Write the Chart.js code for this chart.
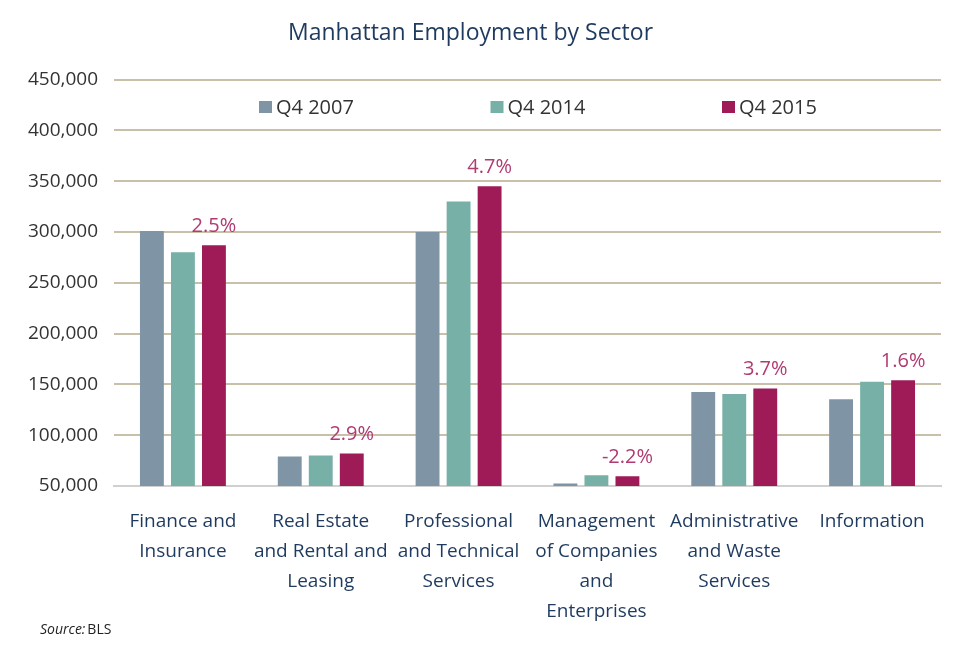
<!DOCTYPE html>
<html>
<head>
  <title>Manhattan Employment by Sector</title>
  <script src="https://cdn.jsdelivr.net/npm/chart.js"></script>
  <style>
    body { margin: 0; background: #ffffff; }
    #wrap { width: 960px; height: 653px; }
  </style>
</head>
<body>
  <div id="wrap">
    <canvas id="sectorChart"></canvas>
  </div>

  <script>
    const FONT = "'Open Sans', sans-serif";

    const sectors = [
      ["Finance and", "Insurance"],
      ["Real Estate", "and Rental and", "Leasing"],
      ["Professional", "and Technical", "Services"],
      ["Management", "of Companies", "and", "Enterprises"],
      ["Administrative", "and Waste", "Services"],
      ["Information"]
    ];
    const q42007 = [301000, 79000, 300000, 52500, 142500, 135500];
    const q42014 = [280000, 80000, 330000, 60500, 140500, 152500];
    const q42015 = [287000, 82000, 345000, 59500, 146000, 154000];
    const growth = ["2.5%", "2.9%", "4.7%", "-2.2%", "3.7%", "1.6%"];
    const yTicks = [50000, 100000, 150000, 200000, 250000, 300000, 350000, 400000, 450000];

    // legend sits inside the plot, spread wide like the original
    const innerLegend = {
      id: 'innerLegend',
      afterDraw(chart) {
        const ctx = chart.ctx;
        const area = chart.chartArea;
        const mid = (area.left + area.right) / 2 + 10;
        ctx.save();
        ctx.font = "20px " + FONT;
        ctx.textBaseline = 'middle';
        chart.data.datasets.forEach((ds, i) => {
          const x = mid + (i - 1) * 231.5 - 47;
          const y = 107;
          ctx.fillStyle = ds.backgroundColor;
          ctx.fillRect(x, y - 6, 13, 12);
          ctx.fillStyle = '#333333';
          ctx.fillText(ds.label, x + 17, y + 1);
        });
        ctx.restore();
      }
    };

    // growth labels above the Q4 2015 bars, plus source note
    const growthLabels = {
      id: 'growthLabels',
      afterDatasetsDraw(chart) {
        const ctx = chart.ctx;
        const bars = chart.getDatasetMeta(2).data;
        ctx.save();
        ctx.font = "20px " + FONT;
        ctx.fillStyle = '#b03a72';
        ctx.textAlign = 'center';
        ctx.textBaseline = 'bottom';
        bars.forEach((bar, i) => {
          ctx.fillText(growth[i], bar.x, bar.y - 9);
        });

        ctx.textAlign = 'left';
        ctx.textBaseline = 'middle';
        ctx.fillStyle = '#222222';
        ctx.font = "italic 14px " + FONT;
        ctx.fillText("Source:", 40, 630);
        const w = ctx.measureText("Source:").width;
        ctx.font = "14px " + FONT;
        ctx.fillText("BLS", 40 + w + 2, 630);
        ctx.restore();
      }
    };

    const ctx = document.getElementById('sectorChart').getContext('2d');
    new Chart(ctx, {
      type: 'bar',
      data: {
        labels: sectors,
        datasets: [
          { label: "Q4 2007", data: q42007, backgroundColor: '#7f95a6' },
          { label: "Q4 2014", data: q42014, backgroundColor: '#77b0a6' },
          { label: "Q4 2015", data: q42015, backgroundColor: '#9e1b58' }
        ]
      },
      options: {
        responsive: true,
        maintainAspectRatio: false,
        animation: false,
        layout: { padding: { left: 0, right: 19, top: 0, bottom: 0 } },
        datasets: {
          bar: { categoryPercentage: 0.675, barPercentage: 0.77 }
        },
        plugins: {
          legend: { display: false },
          tooltip: { enabled: false },
          title: {
            display: true,
            text: "Manhattan Employment by Sector",
            color: '#1f3a5f',
            font: { family: FONT, size: 23, weight: 'normal' },
            padding: { top: 20, bottom: 32 }
          }
        },
        scales: {
          x: {
            grid: { display: false, drawTicks: false },
            border: { display: true, color: '#d0d0d0', width: 2 },
            ticks: {
              color: '#1f3a5f',
              padding: 21,
              maxRotation: 0,
              autoSkip: false,
              font: { family: FONT, size: 19, lineHeight: 1.58 }
            },
            afterFit(scale) { scale.height = 167; }
          },
          y: {
            min: 50000,
            max: 450000,
            afterBuildTicks(scale) { scale.ticks = yTicks.map(v => ({ value: v })); },
            grid: { color: '#c9c0aa', lineWidth: 2, drawTicks: false },
            border: { display: false },
            ticks: {
              color: '#333333',
              padding: 16,
              font: { family: FONT, size: 19 },
              callback: v => v.toLocaleString('en-US')
            },
            afterFit(scale) { scale.width = 114; }
          }
        }
      },
      plugins: [innerLegend, growthLabels]
    });
  </script>
</body>
</html>
